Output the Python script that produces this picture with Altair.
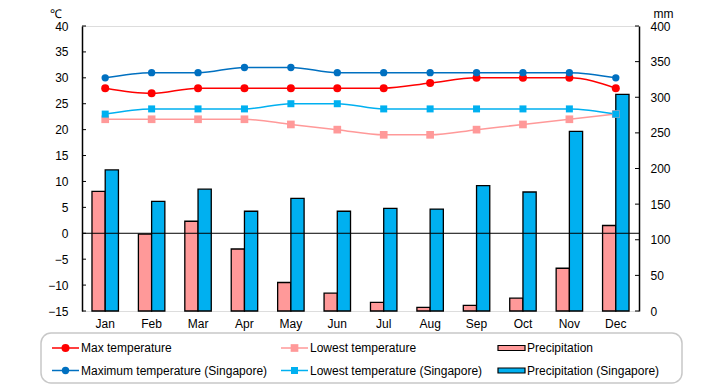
import altair as alt
import pandas as pd

months = ["Jan", "Feb", "Mar", "Apr", "May", "Jun", "Jul", "Aug", "Sep", "Oct", "Nov", "Dec"]
max_temp = [28, 27, 28, 28, 28, 28, 28, 29, 30, 30, 30, 28]
low_temp = [22, 22, 22, 22, 21, 20, 19, 19, 20, 21, 22, 23]
max_temp_sg = [30, 31, 31, 32, 32, 31, 31, 31, 31, 31, 31, 30]
low_temp_sg = [23, 24, 24, 24, 25, 25, 24, 24, 24, 24, 24, 23]
precip = [168, 108, 126, 87, 40, 25, 12, 5, 8, 18, 60, 120]
precip_sg = [198, 154, 171, 140, 158, 140, 144, 143, 176, 167, 252, 304]
temp_ticks = [-15, -10, -5, 0, 5, 10, 15, 20, 25, 30, 35, 40]
precip_ticks = [0, 50, 100, 150, 200, 250, 300, 350, 400]

S_MAX = "Max temperature"
S_LOW = "Lowest temperature"
S_PR = "Precipitation"
S_MAX_SG = "Maximum temperature (Singapore)"
S_LOW_SG = "Lowest temperature (Singapore)"
S_PR_SG = "Precipitation (Singapore)"

series_all = [S_MAX, S_LOW, S_PR, S_MAX_SG, S_LOW_SG, S_PR_SG]
colors_all = ["#FF0000", "#FF9999", "#FF9999", "#0070C0", "#00B0F0", "#00B0F0"]
line_series = [S_MAX, S_LOW, S_MAX_SG, S_LOW_SG]
line_shapes = ["circle", "square", "circle", "square"]
line_sizes = [64, 49, 49, 56]

FONT = "Liberation Sans"
W, H = 557, 285

temp_rows = []
for name, vals in [(S_MAX, max_temp), (S_LOW, low_temp), (S_MAX_SG, max_temp_sg), (S_LOW_SG, low_temp_sg)]:
    for m, v in zip(months, vals):
        temp_rows.append({"month": m, "series": name, "value": v})
temp_df = pd.DataFrame(temp_rows)

pr_rows = []
for name, vals in [(S_PR, precip), (S_PR_SG, precip_sg)]:
    for m, v in zip(months, vals):
        pr_rows.append({"month": m, "series": name, "value": v})
pr_df = pd.DataFrame(pr_rows)

color_scale = alt.Scale(domain=series_all, range=colors_all)
shape_scale = alt.Scale(domain=line_series, range=line_shapes)
size_scale = alt.Scale(domain=line_series, range=line_sizes)

x_enc = alt.X(
    "month:N",
    sort=months,
    scale=alt.Scale(domain=months, paddingInner=0.43, paddingOuter=0.215),
    axis=alt.Axis(title=None, domain=False, ticks=False, labelPadding=7, labelAngle=0,
                  labelFont=FONT, labelFontSize=12, labelColor="black"),
)

temp_scale = alt.Scale(domain=[-15, 40], nice=False, zero=False)
pr_scale = alt.Scale(domain=[0, 400], nice=False)

temp_axis = alt.Axis(orient="left", values=temp_ticks, grid=False, ticks=False,
                     domainColor="black", domainWidth=1.5, labelPadding=14,
                     labelFont=FONT, labelFontSize=12, labelColor="black",
                     title="℃", titleAngle=0, titleX=-27, titleY=-18,
                     titleAlign="center", titleBaseline="top", titleFont=FONT,
                     titleFontSize=12, titleFontWeight="normal", titleColor="black")
pr_axis = alt.Axis(orient="right", values=precip_ticks, grid=False, ticks=False,
                   domainColor="black", domainWidth=1.5, labelPadding=11,
                   labelFont=FONT, labelFontSize=12, labelColor="black",
                   title="mm", titleAngle=0, titleX=24, titleY=-18,
                   titleAlign="center", titleBaseline="top", titleFont=FONT,
                   titleFontSize=12, titleFontWeight="normal", titleColor="black")

# Precipitation layer (right axis)
bars = alt.Chart(pr_df).mark_bar(stroke="black", strokeWidth=1.3, opacity=1).encode(
    x=x_enc,
    xOffset=alt.XOffset("series:N", scale=alt.Scale(domain=[S_PR, S_PR_SG], paddingInner=0, paddingOuter=0)),
    y=alt.Y("value:Q", scale=pr_scale, axis=pr_axis),
    color=alt.Color("series:N", scale=color_scale, legend=None),
)
rticks = alt.Chart(pd.DataFrame({"value": precip_ticks})).mark_rule(color="black", strokeWidth=1).encode(
    x=alt.value(W - 4), x2=alt.value(W), y=alt.Y("value:Q", scale=pr_scale, axis=pr_axis)
)
pr_layer = alt.layer(bars, rticks)

# Temperature layer (left axis)
zero_rule = alt.Chart(pd.DataFrame({"value": [0]})).mark_rule(color="black", strokeWidth=1).encode(
    y=alt.Y("value:Q", scale=temp_scale, axis=temp_axis)
)
lticks = alt.Chart(pd.DataFrame({"value": temp_ticks})).mark_rule(color="black", strokeWidth=1).encode(
    x=alt.value(0), x2=alt.value(4), y=alt.Y("value:Q", scale=temp_scale, axis=temp_axis)
)
lines = alt.Chart(temp_df).mark_line(strokeWidth=1.5, interpolate="monotone").encode(
    x=x_enc,
    y=alt.Y("value:Q", scale=temp_scale, axis=temp_axis),
    color=alt.Color("series:N", scale=color_scale, legend=None),
)
points = alt.Chart(temp_df).mark_point(filled=True, opacity=1).encode(
    x=x_enc,
    y=alt.Y("value:Q", scale=temp_scale, axis=temp_axis),
    color=alt.Color("series:N", scale=color_scale, legend=None),
    shape=alt.Shape("series:N", scale=shape_scale, legend=None),
    size=alt.Size("series:N", scale=size_scale, legend=None),
)
temp_layer = alt.layer(zero_rule, lticks, lines, points)

main = alt.layer(pr_layer, temp_layer).resolve_scale(y="independent")

# Custom legend
leg_df = pd.DataFrame({
    "series": series_all,
    "col": [0, 1, 2, 0, 1, 2],
    "row": [0, 0, 0, 1, 1, 1],
})
lx = alt.X("col:Q", scale=alt.Scale(domain=[0, 1, 2], range=[-30, 199, 416]), axis=None)
ly = alt.Y("row:Q", scale=alt.Scale(domain=[0, 1], range=[322, 344.5]), axis=None)
leg_color = alt.Color("series:N", scale=color_scale, legend=None)

box = alt.Chart(alt.Data(values=[{}])).mark_rect(
    cornerRadius=10, fill="white", stroke="#C8C8C8", strokeWidth=1.5
).encode(x=alt.value(-41), x2=alt.value(600), y=alt.value(307), y2=alt.value(357))

leg_base = alt.Chart(leg_df)
leg_lines = leg_base.transform_filter(
    alt.FieldOneOfPredicate(field="series", oneOf=line_series)
).mark_rule(strokeWidth=1.5, x2Offset=27).encode(x=lx, x2="col:Q", y=ly, color=leg_color)
leg_pts = leg_base.transform_filter(
    alt.FieldOneOfPredicate(field="series", oneOf=line_series)
).mark_point(filled=True, opacity=1, xOffset=13.5).encode(
    x=lx, y=ly, color=leg_color,
    shape=alt.Shape("series:N", scale=shape_scale, legend=None),
    size=alt.Size("series:N", scale=size_scale, legend=None),
)
leg_rects = leg_base.transform_filter(
    alt.FieldOneOfPredicate(field="series", oneOf=[S_PR, S_PR_SG])
).mark_rect(x2Offset=27, yOffset=-2.5, y2Offset=2.5, stroke="black", strokeWidth=1.2).encode(
    x=lx, x2="col:Q", y=ly, y2="row:Q", color=leg_color
)
leg_text = leg_base.mark_text(align="left", baseline="middle", xOffset=29, font=FONT,
                              fontSize=12, color="black").encode(x=lx, y=ly, text="series:N")

legend = alt.layer(box, leg_lines, leg_pts, leg_rects, leg_text)

chart = alt.layer(main, legend).resolve_scale(
    x="independent", y="independent", color="shared"
).properties(
    width=W, height=H,
    autosize=alt.AutoSizeParams(type="none"),
    padding={"left": 74, "top": 18, "right": 73, "bottom": 76},
).configure_view(fill="#FFFFCC", strokeWidth=0).configure(font=FONT)

chart.save("out.html", embed_options={"renderer": "svg", "actions": False})
